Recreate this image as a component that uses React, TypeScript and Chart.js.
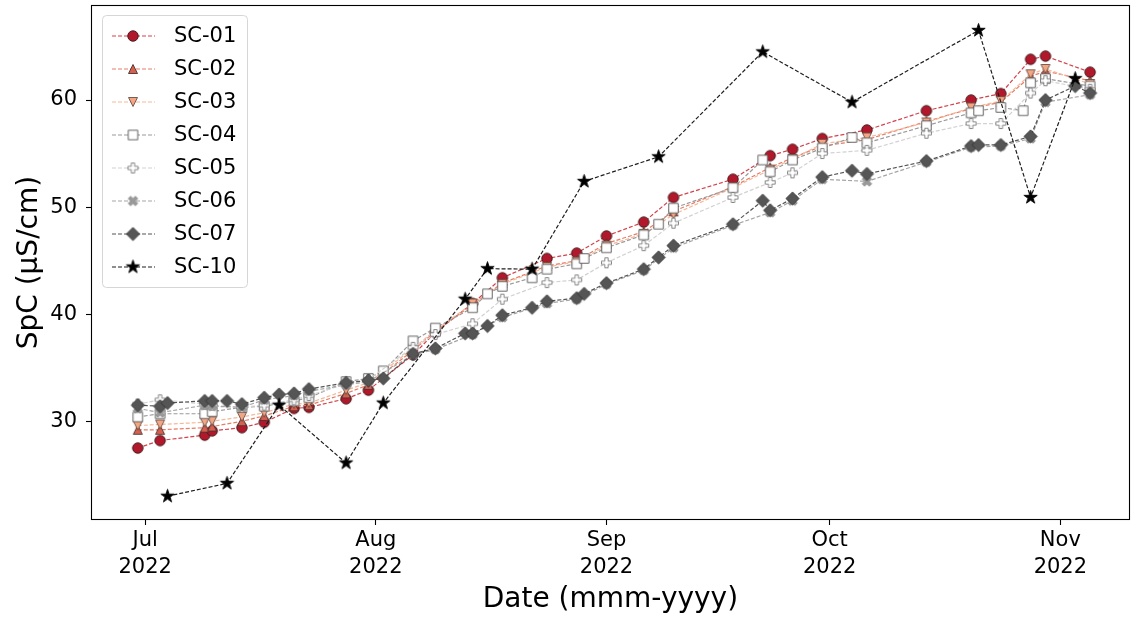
import React, { useEffect, useRef } from 'react';
import { Chart, registerables } from 'chart.js';

Chart.register(...registerables);

const FONT = '"DejaVu Sans", "Liberation Sans", sans-serif';

// ---------------- data ----------------
const seriesNames = ['SC-01', 'SC-02', 'SC-03', 'SC-04', 'SC-05', 'SC-06', 'SC-07', 'SC-10'];

const mainDates = [
  '2022-06-30', '2022-07-03', '2022-07-09', '2022-07-10', '2022-07-14', '2022-07-17',
  '2022-07-21', '2022-07-23', '2022-07-28', '2022-07-31', '2022-08-06', '2022-08-09',
  '2022-08-14', '2022-08-18', '2022-08-24', '2022-08-28', '2022-09-01', '2022-09-06',
  '2022-09-10', '2022-09-18', '2022-09-23', '2022-09-26', '2022-09-30', '2022-10-06',
  '2022-10-14', '2022-10-20', '2022-10-24', '2022-10-28', '2022-10-30', '2022-11-05',
];

const sc01Values = [
  27.5, 28.2, 28.7, 29.1, 29.4, 29.9, 31.2, 31.3, 32.1, 32.9, 36.2, 38.3,
  41.0, 43.4, 45.2, 45.7, 47.3, 48.6, 50.9, 52.6, 54.8, 55.4, 56.4, 57.2,
  59.0, 60.0, 60.6, 63.8, 64.1, 62.6,
];

const sc02Values = [
  29.2, 29.2, 29.4, 29.5, 30.0, 30.5, 31.4, 31.5, 32.6, 33.4, 36.6, 38.4,
  40.9, 42.9, 44.5, 45.0, 46.6, 47.7, 49.6, 51.9, 53.7, 54.6, 55.7, 56.3,
  58.0, 59.2, 59.8, 62.2, 62.7, 61.8,
];

const sc03Values = [
  29.6, 29.7, 29.9, 30.0, 30.4, 30.8, 31.6, 31.7, 32.9, 33.6, 36.8, 38.5,
  41.0, 42.8, 44.4, 44.9, 46.4, 47.5, 49.3, 51.8, 53.5, 54.5, 55.9, 56.5,
  57.9, 59.3, 59.9, 62.4, 62.9, 61.5,
];

const sc04Dates = [
  '2022-06-30', '2022-07-03', '2022-07-09', '2022-07-10', '2022-07-14', '2022-07-17',
  '2022-07-21', '2022-07-23', '2022-07-28', '2022-07-31', '2022-08-02', '2022-08-06',
  '2022-08-09', '2022-08-14', '2022-08-16', '2022-08-18', '2022-08-22', '2022-08-24',
  '2022-08-28', '2022-08-29', '2022-09-01', '2022-09-06', '2022-09-08', '2022-09-10',
  '2022-09-18', '2022-09-22', '2022-09-23', '2022-09-26', '2022-09-30', '2022-10-04',
  '2022-10-06', '2022-10-14', '2022-10-20', '2022-10-21', '2022-10-24', '2022-10-27',
  '2022-10-28', '2022-10-30', '2022-11-05',
];
const sc04Values = [
  30.4, 30.7, 30.7, 30.9, 31.3, 31.4, 31.9, 32.2, 33.7, 34.0, 34.7, 37.5,
  38.7, 40.6, 41.9, 42.6, 43.4, 44.2, 44.7, 45.2, 46.2, 47.4, 48.4, 49.9,
  51.8, 54.4, 53.3, 54.4, 55.5, 56.5, 56.0, 57.6, 58.8, 59.0, 59.3, 59.0,
  61.6, 62.0, 61.3,
];

const sc05Values = [
  31.6, 32.0, 31.6, 31.5, 31.3, 31.5, 32.0, 32.4, 33.5, 33.9, 36.9, 38.1,
  39.1, 41.4, 42.95, 43.2, 44.8, 46.4, 48.5, 50.9, 52.3, 53.2, 55.0, 55.3,
  56.9, 57.8, 57.8, 60.65, 61.8, 61.0,
];

const sc06Values = [
  31.2, 30.8, 31.5, 31.4, 31.3, 32.0, 32.4, 32.8, 33.4, 33.7, 36.2, 36.7,
  38.1, 39.7, 41.0, 41.4, 42.8, 44.1, 46.2, 48.3, 49.5, 50.6, 52.6, 52.4,
  54.2, 55.6, 55.7, 56.4, 59.8, 60.5,
];

const sc07Dates = [
  '2022-06-30', '2022-07-03', '2022-07-04', '2022-07-09', '2022-07-10', '2022-07-12',
  '2022-07-14', '2022-07-17', '2022-07-19', '2022-07-21', '2022-07-23', '2022-07-28',
  '2022-07-31', '2022-08-02', '2022-08-06', '2022-08-09', '2022-08-13', '2022-08-14',
  '2022-08-16', '2022-08-18', '2022-08-22', '2022-08-24', '2022-08-28', '2022-08-29',
  '2022-09-01', '2022-09-06', '2022-09-08', '2022-09-10', '2022-09-18', '2022-09-22',
  '2022-09-23', '2022-09-26', '2022-09-30', '2022-10-04', '2022-10-06', '2022-10-14',
  '2022-10-20', '2022-10-21', '2022-10-24', '2022-10-28', '2022-10-30', '2022-11-03',
  '2022-11-05',
];
const sc07Values = [
  31.5, 31.4, 31.7, 31.9, 31.9, 31.9, 31.6, 32.2, 32.5, 32.6, 33.0, 33.6,
  33.8, 34.0, 36.3, 36.8, 38.2, 38.2, 38.9, 39.9, 40.6, 41.2, 41.5, 41.9,
  42.9, 44.2, 45.3, 46.4, 48.4, 50.6, 49.7, 50.8, 52.8, 53.4, 53.1, 54.3,
  55.7, 55.8, 55.8, 56.6, 60.0, 61.3, 60.65,
];

const sc10Dates = [
  '2022-07-04', '2022-07-12', '2022-07-19', '2022-07-28', '2022-08-02', '2022-08-13',
  '2022-08-16', '2022-08-22', '2022-08-29', '2022-09-08', '2022-09-22', '2022-10-04',
  '2022-10-21', '2022-10-28', '2022-11-03',
];
const sc10Values = [
  23.0, 24.2, 31.5, 26.1, 31.7, 41.4, 44.25, 44.2, 52.4, 54.7, 64.5, 59.8,
  66.5, 50.9, 62.0,
];

const monthTickDates = ['2022-07-01', '2022-08-01', '2022-09-01', '2022-10-01', '2022-11-01'];
const monthTickLabels = [
  ['Jul', '2022'], ['Aug', '2022'], ['Sep', '2022'], ['Oct', '2022'], ['Nov', '2022'],
];
const yTickValues = [30, 40, 50, 60];

// ---------------- helpers ----------------
const dayOf = (s: string) =>
  (Date.UTC(+s.slice(0, 4), +s.slice(5, 7) - 1, +s.slice(8, 10)) - Date.UTC(2022, 6, 1)) / 86400000;

type Shape = 'circle' | 'triUp' | 'triDown' | 'square' | 'plus' | 'x' | 'diamond' | 'star';

function pathShape(ctx: CanvasRenderingContext2D, shape: Shape, cx: number, cy: number, s: number) {
  const h = s / 2;
  ctx.beginPath();
  const poly = (pts: number[][], k: number) => {
    pts.forEach((p, i) => {
      const X = cx + p[0] * k;
      const Y = cy + p[1] * k;
      if (i === 0) ctx.moveTo(X, Y);
      else ctx.lineTo(X, Y);
    });
    ctx.closePath();
  };
  switch (shape) {
    case 'circle':
      ctx.arc(cx, cy, h, 0, Math.PI * 2);
      break;
    case 'triUp':
      poly([[0, -1], [1, 1], [-1, 1]], h);
      break;
    case 'triDown':
      poly([[0, 1], [1, -1], [-1, -1]], h);
      break;
    case 'square':
      ctx.rect(cx - h, cy - h, s, s);
      break;
    case 'diamond':
      poly([[0, -1], [1, 0], [0, 1], [-1, 0]], h * Math.SQRT2);
      break;
    case 'plus':
      poly([[-1, -3], [1, -3], [1, -1], [3, -1], [3, 1], [1, 1], [1, 3], [-1, 3], [-1, 1], [-3, 1], [-3, -1], [-1, -1]], s / 6);
      break;
    case 'x':
      poly([[-1, -2], [0, -1], [1, -2], [2, -1], [1, 0], [2, 1], [1, 2], [0, 1], [-1, 2], [-2, 1], [-1, 0], [-2, -1]], s / 4);
      break;
    case 'star': {
      const pts: number[][] = [];
      for (let i = 0; i < 10; i++) {
        const r = i % 2 === 0 ? 1 : 0.381966;
        const a = -Math.PI / 2 + (i * Math.PI) / 5;
        pts.push([Math.cos(a) * r, Math.sin(a) * r]);
      }
      poly(pts, h);
      break;
    }
  }
}

function makeMarker(shape: Shape, s: number, fill: string, stroke: string, lw: number) {
  const ext = shape === 'diamond' ? s * Math.SQRT2 : s;
  const size = Math.ceil(ext + lw) + 4;
  const c = document.createElement('canvas');
  c.width = size;
  c.height = size;
  const ctx = c.getContext('2d')!;
  pathShape(ctx, shape, size / 2, size / 2, s);
  ctx.fillStyle = fill;
  ctx.fill();
  ctx.lineWidth = lw;
  ctx.strokeStyle = stroke;
  ctx.lineJoin = 'miter';
  ctx.stroke();
  return c;
}

// styles per series (same order as seriesNames)
const seriesStyles: { shape: Shape; size: number; fill: string; edge: string; line: string }[] = [
  { shape: 'circle', size: 10.5, fill: '#b2182b', edge: '#3a1a1a', line: '#d2434c' },
  { shape: 'triUp', size: 9, fill: '#d6604d', edge: '#4a3030', line: '#e57d66' },
  { shape: 'triDown', size: 9, fill: '#f4a582', edge: '#6a5048', line: '#f5b899' },
  { shape: 'square', size: 9.5, fill: '#ffffff', edge: '#555555', line: '#9a9a9a' },
  { shape: 'plus', size: 10, fill: '#ffffff', edge: '#7a7a7a', line: '#d2d2d2' },
  { shape: 'x', size: 9.5, fill: '#9a9a9a', edge: '#8a8a8a', line: '#a5a5a5' },
  { shape: 'diamond', size: 9.3, fill: '#555555', edge: '#333333', line: '#555555' },
  { shape: 'star', size: 14, fill: '#000000', edge: '#000000', line: '#1e1e1e' },
];

export default function App() {
  const ref = useRef<HTMLCanvasElement | null>(null);

  useEffect(() => {
    document.body.style.margin = '0';
    const canvas = ref.current;
    if (!canvas) return;

    const seriesDates = [mainDates, mainDates, mainDates, sc04Dates, mainDates, mainDates, sc07Dates, sc10Dates];
    const seriesValues = [sc01Values, sc02Values, sc03Values, sc04Values, sc05Values, sc06Values, sc07Values, sc10Values];

    const markers = seriesStyles.map((st) => makeMarker(st.shape, st.size, st.fill, st.edge, 0.9));

    const datasets = seriesNames.map((name, i) => ({
      label: name,
      data: seriesDates[i].map((d, j) => ({ x: dayOf(d), y: seriesValues[i][j] })),
      borderColor: seriesStyles[i].line,
      backgroundColor: seriesStyles[i].fill,
      borderWidth: 1.2,
      borderDash: [4, 2],
      pointStyle: markers[i] as any,
      pointRadius: 5,
      pointHoverRadius: 5,
      tension: 0,
      fill: false,
      order: seriesNames.length - i,
    }));

    const tickDays = monthTickDates.map(dayOf);

    const framePlugin = {
      id: 'frame',
      afterDraw(chart: any) {
        const { ctx, chartArea: ca } = chart;
        ctx.save();
        ctx.strokeStyle = '#000';
        ctx.lineWidth = 1.1;
        ctx.strokeRect(Math.round(ca.left) - 0.5, Math.round(ca.top) - 0.5, Math.round(ca.right - ca.left) + 1, Math.round(ca.bottom - ca.top) + 1);
        ctx.restore();
      },
    };

    const legendPlugin = {
      id: 'customLegend',
      afterDraw(chart: any) {
        const ctx: CanvasRenderingContext2D = chart.ctx;
        ctx.save();
        ctx.beginPath();
        (ctx as any).roundRect(102.5, 15.5, 145, 272, 4);
        ctx.fillStyle = 'rgba(255,255,255,0.8)';
        ctx.fill();
        ctx.strokeStyle = '#d6d6d6';
        ctx.lineWidth = 1;
        ctx.stroke();
        seriesNames.forEach((name, i) => {
          const y = 36 + i * 33;
          ctx.strokeStyle = seriesStyles[i].line;
          ctx.lineWidth = 1.2;
          ctx.setLineDash([4, 2]);
          ctx.beginPath();
          ctx.moveTo(112, y);
          ctx.lineTo(155, y);
          ctx.stroke();
          ctx.setLineDash([]);
          const m = markers[i];
          ctx.drawImage(m, 133 - m.width / 2, y - m.height / 2);
          ctx.fillStyle = '#000';
          ctx.font = `21px ${FONT}`;
          ctx.textBaseline = 'middle';
          ctx.textAlign = 'left';
          ctx.fillText(name, 174, y + 1);
        });
        ctx.restore();
      },
    };

    const chart = new Chart(canvas, {
      type: 'line',
      data: { datasets: datasets as any },
      options: {
        animation: false,
        responsive: false,
        maintainAspectRatio: false,
        layout: { padding: { left: 0, right: 2, top: 5, bottom: 0 } },
        plugins: {
          legend: { display: false },
          tooltip: { enabled: false },
        },
        scales: {
          x: {
            type: 'linear',
            min: -7.15,
            max: 132.2,
            afterBuildTicks: (s: any) => {
              s.ticks = tickDays.map((v) => ({ value: v }));
            },
            afterFit: (s: any) => {
              s.height = 98;
              s.paddingLeft = 0;
              s.paddingRight = 0;
              s.paddingTop = 0;
              s.paddingBottom = 0;
            },
            ticks: {
              autoSkip: false,
              maxRotation: 0,
              color: '#000',
              padding: 2,
              font: { family: FONT, size: 21, lineHeight: 1.3 },
              callback: (_v: any, idx: number) => monthTickLabels[idx],
            },
            grid: {
              display: true,
              drawOnChartArea: false,
              drawTicks: true,
              tickLength: 6,
              tickWidth: 1.1,
              tickColor: '#000',
            },
            border: { display: false },
            title: {
              display: true,
              text: 'Date (mmm-yyyy)',
              color: '#000',
              font: { family: FONT, size: 28 },
              padding: { top: 0, bottom: 0 },
            },
          },
          y: {
            type: 'linear',
            min: 20.87,
            max: 68.76,
            afterBuildTicks: (s: any) => {
              s.ticks = yTickValues.map((v) => ({ value: v }));
            },
            afterFit: (s: any) => {
              s.width = 92;
              s.paddingTop = 0;
              s.paddingBottom = 0;
              s.paddingLeft = 0;
              s.paddingRight = 0;
            },
            ticks: {
              color: '#000',
              padding: 9,
              font: { family: FONT, size: 21 },
              callback: (v: any) => String(v),
            },
            grid: {
              display: true,
              drawOnChartArea: false,
              drawTicks: true,
              tickLength: 6,
              tickWidth: 1.1,
              tickColor: '#000',
            },
            border: { display: false },
            title: {
              display: true,
              text: 'SpC (μS/cm)',
              color: '#000',
              font: { family: FONT, size: 28 },
              padding: { top: 13, bottom: 0 },
            },
          },
        },
      },
      plugins: [framePlugin, legendPlugin],
    });

    return () => chart.destroy();
  }, []);

  return (
    <div style={{ width: 1135, height: 617, position: 'relative', background: '#fff' }}>
      <canvas ref={ref} width={1135} height={617} style={{ display: 'block', width: 1135, height: 617 }} />
    </div>
  );
}
